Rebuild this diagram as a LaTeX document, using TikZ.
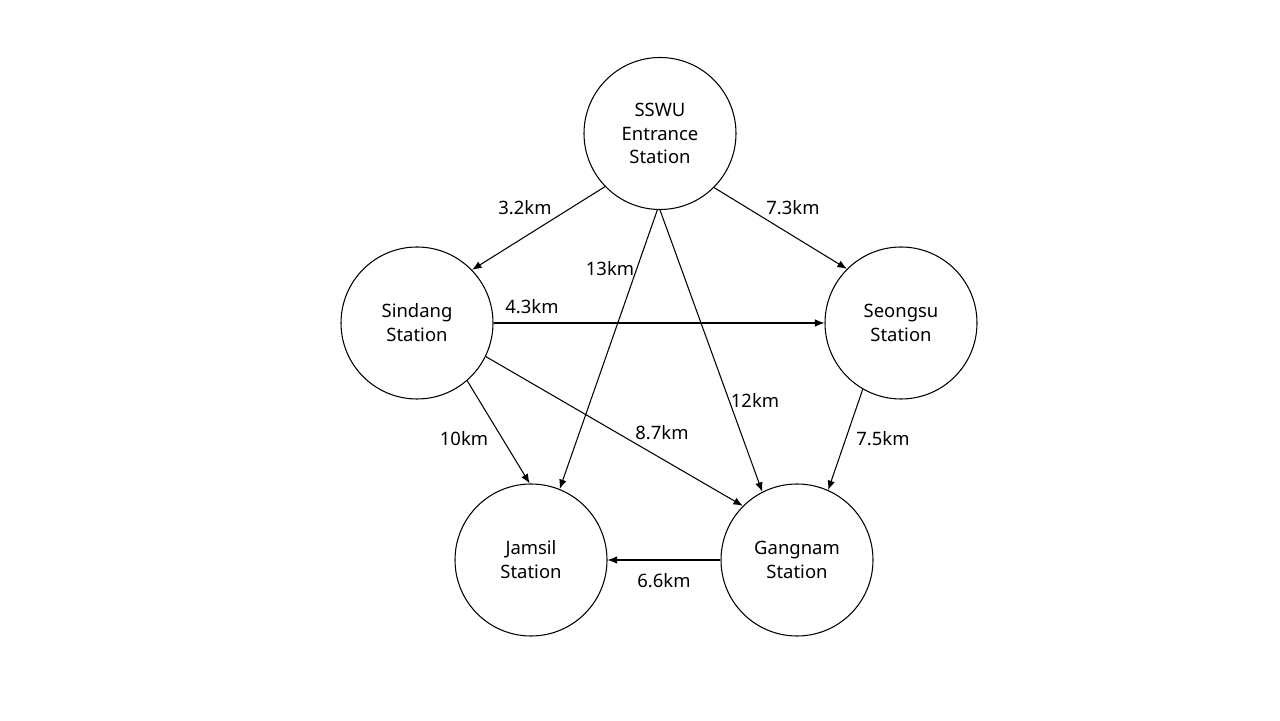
\documentclass[tikz,border=0pt]{standalone}
\usepackage{fontspec}
\setmainfont{Noto Sans}
\usetikzlibrary{arrows.meta}
\begin{document}
\begin{tikzpicture}[
    station/.style={draw, circle, line width=0.6pt, minimum size=3.04cm, inner sep=0pt,
      align=center, font=\fontsize{10.5}{13.6}\selectfont},
    dist/.style={inner sep=1pt, font=\fontsize{10.5}{13.6}\selectfont},
    link/.style={line width=0.6pt, -{Latex[length=1.9mm,width=1.5mm]}}
  ]
      \useasboundingbox[fill=white] (0,0) rectangle (25.6,14.4);
      % Stations
      \node[station] (sswu) at (13.2,11.73) {SSWU\\Entrance\\Station};
      \node[station] (sindang) at (8.34,7.94) {Sindang\\Station};
      \node[station] (seongsu) at (18.02,7.94) {Seongsu\\Station};
      \node[station] (jamsil) at (10.62,3.2) {Jamsil\\Station};
      \node[station] (gangnam) at (15.94,3.2) {Gangnam\\Station};
      % Routes
      \draw[link] (sswu.224) -- (sindang.44);
      \draw[link] (sswu.-45) -- (seongsu.135);
      \draw[link] (sswu.-92) -- (jamsil.68);
      \draw[link] (sswu.-90) -- (gangnam.117);
      \draw[link] (sindang.0) -- (seongsu.180);
      \draw[link] (sindang.-26) -- (gangnam.135);
      \draw[link] (sindang.-49) -- (jamsil.91);
      \draw[link] (seongsu.-120) -- (gangnam.66);
      \draw[link] (gangnam.180) -- (jamsil.0);
      % Distances
      \node[dist] (d32) at (10.5,10.24) {3.2km};
      \node[dist] (d73) at (15.86,10.24) {7.3km};
      \node[dist] (d13) at (12.2,9.02) {13km};
      \node[dist] (d12) at (15.1,6.4) {12km};
      \node[dist] (d43) at (10.64,8.26) {4.3km};
      \node[dist] (d87) at (13.24,5.74) {8.7km};
      \node[dist] (d10) at (9.28,5.62) {10km};
      \node[dist] (d75) at (17.66,5.62) {7.5km};
      \node[dist] (d66) at (13.28,2.78) {6.6km};
    \end{tikzpicture}
\end{document}
